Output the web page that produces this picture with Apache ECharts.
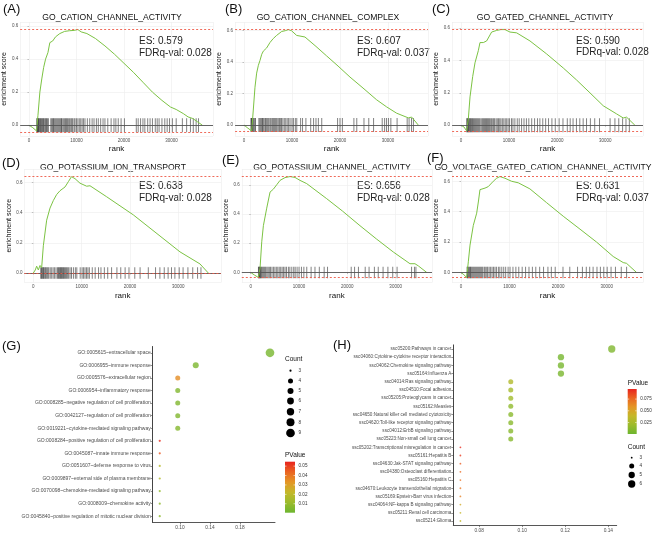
<!DOCTYPE html>
<html><head><meta charset="utf-8">
<script src="https://cdn.jsdelivr.net/npm/echarts@6/dist/echarts.min.js"></script>
<style>html,body{margin:0;padding:0;background:#fff}#c{width:653px;height:534px}</style>
</head><body><div id="c"></div>
<script>
// ---------------- DATA ----------------
const panelTags = ['(A)', '(B)', '(C)', '(D)', '(E)', '(F)'];
const panelNames = ['GO_CATION_CHANNEL_ACTIVITY', 'GO_CATION_CHANNEL_COMPLEX', 'GO_GATED_CHANNEL_ACTIVITY',
  'GO_POTASSIUM_ION_TRANSPORT', 'GO_POTASSIUM_CHANNEL_ACTIVITY', 'GO_VOLTAGE_GATED_CATION_CHANNEL_ACTIVITY'];
const esValues = ['0.579', '0.607', '0.590', '0.638', '0.656', '0.631'];
const fdrValues = ['0.028', '0.037', '0.028', '0.028', '0.028', '0.037'];

const curveA = [[0,0],[800,-0.015],[1600,-0.035],[1900,0.06],[2300,0.2],[2700,0.28],[3100,0.35],[3500,0.4],[4000,0.44],[4400,0.5],[4700,0.49],[5000,0.51],[5600,0.535],[6500,0.555],[7500,0.568],[8500,0.572],[9500,0.574],[10300,0.579],[11000,0.565],[12200,0.555],[14000,0.525],[16000,0.48],[18000,0.43],[20000,0.375],[22000,0.32],[24000,0.26],[26000,0.2],[28000,0.15],[29800,0.11],[31000,0.095],[32500,0.07],[33500,0.05],[34500,0.04],[35500,0.02],[36500,0]];
const curveB = [[0,0],[800,-0.02],[1600,-0.038],[1940,0.095],[2290,0.24],[2640,0.33],[3000,0.38],[3330,0.41],[3700,0.45],[4030,0.47],[4400,0.47],[4720,0.49],[5420,0.525],[6100,0.55],[6800,0.57],[7850,0.595],[8600,0.6],[9240,0.607],[9900,0.6],[10970,0.57],[12700,0.56],[15000,0.5],[17200,0.44],[19600,0.375],[22080,0.305],[24800,0.235],[27640,0.16],[29720,0.115],[31800,0.075],[34240,0.045],[34940,0.05],[36300,0]];
const curveC = [[0,0],[600,-0.01],[1180,-0.035],[1530,0.04],[1875,0.175],[2430,0.3],[2910,0.385],[3600,0.46],[3950,0.51],[4640,0.51],[5330,0.52],[6370,0.575],[7410,0.585],[8300,0.59],[9150,0.59],[10180,0.575],[11570,0.57],[14340,0.52],[17800,0.44],[21270,0.353],[24000,0.28],[26810,0.2],[29580,0.12],[32350,0.07],[33730,0.045],[34430,0.05],[36160,0]];
const curveD = [[0,0],[400,0.02],[690,0.045],[1035,0.02],[1380,0.05],[1725,0.035],[2070,0.18],[2760,0.35],[3450,0.43],[4140,0.48],[4830,0.52],[5520,0.545],[5870,0.535],[6560,0.57],[7250,0.605],[7900,0.638],[8630,0.625],[9660,0.595],[11040,0.575],[11730,0.578],[15180,0.505],[20700,0.385],[26220,0.245],[30360,0.14],[34500,0.06],[36220,0]];
const curveE = [[0,0],[800,-0.018],[1580,-0.034],[1930,0.03],[2280,0.21],[2620,0.32],[3310,0.44],[4000,0.55],[4690,0.57],[5380,0.6],[6070,0.63],[7100,0.649],[8140,0.656],[9170,0.65],[10200,0.63],[11580,0.608],[15720,0.505],[19000,0.42],[22620,0.32],[26000,0.23],[29520,0.14],[32970,0.06],[34000,0.06],[34700,0.045],[36450,0]];
const curveF = [[0,0],[600,-0.015],[1170,-0.033],[1510,0.07],[1860,0.18],[2540,0.31],[3230,0.39],[3600,0.47],[3910,0.545],[4940,0.555],[5620,0.565],[6650,0.6],[7340,0.62],[8020,0.631],[9050,0.62],[10420,0.6],[11790,0.59],[14190,0.55],[17600,0.46],[21050,0.37],[24500,0.285],[27910,0.2],[31340,0.105],[33400,0.065],[34080,0.06],[36140,0]];

const hitsA = [1650,1750,1850,1950,2050,2150,2300,2450,2600,2750,2900,3050,3200,3400,3550,3700,3900,4100,4600,4800,5000,5150,5300,5500,5700,5900,6100,6300,6500,6700,6850,7000,7250,7500,7700,7900,8100,8300,8550,8800,9000,9200,9500,9700,10000,10300,10600,10900,11200,11500,11800,12300,12800,13300,13700,14200,14600,15100,15600,16000,16600,17300,17900,18300,18800,19400,20100,22600,23000,23500,24000,24400,25000,25500,26000,26600,27000,27400,28000,28600,29100,29600,30200,31000,32300,33200,34000,34600,35200,35700];
const hitsB = [1450,1550,1650,1750,1900,2050,2250,2400,3100,3300,3500,3700,3850,4000,4200,4450,4600,4800,5000,5200,5450,5650,5900,6100,6300,6500,6700,6900,7150,7400,7650,7800,8100,8400,8700,9000,9300,9600,10000,10300,10700,11000,11800,12200,12900,13900,14500,15000,15500,16200,19500,20000,20500,22900,23500,25000,26000,27000,28800,29300,29700,30100,30600,31900,34000,34400,34900,35300];
const hitsC = [1200,1300,1400,1550,1650,1800,1950,2100,2250,2400,2600,2800,3000,3200,3400,3600,3800,4000,4300,4500,4700,4900,5100,5300,5500,5700,5900,6100,6350,6600,6800,7000,7300,7550,7800,8050,8300,8600,8900,9200,9500,9800,10100,10500,10800,11200,11700,12100,12600,13100,13600,14100,14700,15300,15900,16400,17000,17600,18200,18900,19600,20400,21200,22100,22700,23300,24000,24700,25400,26100,26900,27800,28800,31000,32000,32800,33600,34300,35000];
const hitsD = [1550,1650,1800,1950,2100,2250,2450,2600,2800,3000,3200,3500,3800,4100,4400,4700,5000,5200,5350,5500,5650,5800,5950,6100,6250,6450,6650,6850,7050,7300,7600,7900,8300,8700,9000,9700,10100,10400,10700,11000,11300,11600,12200,12800,13500,14000,14700,15400,16200,17300,18100,19000,19800,21000,22100,23800,25300,26200,27100,27900,28600,29300,30200,31000,32000,33000,34000,34700];
const hitsE = [1600,1700,1800,1900,2000,2150,2300,2500,2700,2900,3100,3350,3600,3850,4100,4400,4700,5000,5300,5600,5900,6200,6500,6800,7100,7400,7800,8100,8500,8900,9200,9600,10000,10500,11000,11600,12500,13300,14200,15200,15900,20800,21500,22300,23700,24500,25600,26400,27400,28400,29400,30300,33300,33900,34200];
const hitsF = [1250,1350,1500,1650,1800,1950,2100,2300,2500,2700,2900,3100,3300,3500,3700,3900,4100,4300,4500,4800,5000,5300,5500,5800,6100,6400,6700,7000,7300,7700,8000,8400,8800,9200,9700,10100,10700,11300,11900,12600,13300,14000,14700,15400,16200,17000,17900,18600,19400,21000,22400,24000,25000,25800,26500,27200,28000,28700,29400,30100,30900,31800,33000,34100];

const goTerms = ['GO:0005615~extracellular space','GO:0006955~immune response','GO:0005576~extracellular region','GO:0006954~inflammatory response','GO:0008285~negative regulation of cell proliferation','GO:0042127~regulation of cell proliferation','GO:0019221~cytokine-mediated signaling pathway','GO:0008284~positive regulation of cell proliferation','GO:0045087~innate immune response','GO:0051607~defense response to virus','GO:0009897~external side of plasma membrane','GO:0070098~chemokine-mediated signaling pathway','GO:0008009~chemokine activity','GO:0045840~positive regulation of mitotic nuclear division'];
const goRatio = [0.22,0.121,0.097,0.097,0.097,0.097,0.097,0.073,0.073,0.073,0.073,0.073,0.073,0.073];
const goCount = [9,5,4,4,4,4,4,3,3,3,3,3,3,3];
const goPValue = [0.003,0.004,0.035,0.005,0.005,0.005,0.006,0.053,0.046,0.019,0.017,0.009,0.008,0.008];
const goPTicks = [0.01,0.02,0.03,0.04,0.05];
const goCountLevels = [3,4,5,6,7,8,9];

const keggTerms = ['ssc05200:Pathways in cancer','ssc04060:Cytokine-cytokine receptor interaction','ssc04062:Chemokine signaling pathway','ssc05164:Influenza A','ssc04014:Ras signaling pathway','ssc04510:Focal adhesion','ssc05205:Proteoglycans in cancer','ssc05162:Measles','ssc04650:Natural killer cell mediated cytotoxicity','ssc04620:Toll-like receptor signaling pathway','ssc04012:ErbB signaling pathway','ssc05223:Non-small cell lung cancer','ssc05202:Transcriptional misregulation in cancer','ssc05161:Hepatitis B','ssc04630:Jak-STAT signaling pathway','ssc04380:Osteoclast differentiation','ssc05160:Hepatitis C','ssc04670:Leukocyte transendothelial migration','ssc05169:Epstein-Barr virus infection','ssc04064:NF-kappa B signaling pathway','ssc05211:Renal cell carcinoma','ssc05214:Glioma'];
const keggRatio = [0.1416,0.118,0.118,0.118,0.0947,0.0947,0.0947,0.0947,0.0947,0.0947,0.0947,0.0947,0.0713,0.0713,0.0713,0.0713,0.0713,0.0713,0.0713,0.0713,0.0713,0.0713];
const keggCount = [6,5,5,5,4,4,4,4,4,4,4,4,3,3,3,3,3,3,3,3,3,3];
const keggPValue = [0.008,0.004,0.005,0.006,0.03,0.024,0.022,0.015,0.012,0.012,0.011,0.011,0.094,0.09,0.08,0.075,0.072,0.07,0.066,0.047,0.04,0.037];
const keggPTicks = [0.025,0.05,0.075];
const keggCountLevels = [3,4,5,6];

// ---------------- STYLE / LAYOUT ----------------
const FONT = '"Liberation Sans", Arial, Helvetica, sans-serif';
const curves = [curveA, curveB, curveC, curveD, curveE, curveF];
const hits = [hitsA, hitsB, hitsC, hitsD, hitsE, hitsF];
const L = [
  {left:18.1, top:22, width:194.9, height:114, xMax:38750, yMin:-0.0657, yMax:0.625, rug:14, tag:[3,9], title:[112,18], es:[139,41,53]},
  {left:235.1, top:22, width:192.9, height:114, xMax:38340, yMin:-0.0703, yMax:0.6554, rug:14, tag:[225,9], title:[328,18], es:[357,41.5,53]},
  {left:452.1, top:22, width:190.9, height:114, xMax:37840, yMin:-0.0663, yMax:0.6369, rug:14, tag:[432,9], title:[545,18], es:[576,41,52.5]},
  {left:24.4, top:169, width:196.6, height:113.5, xMax:38850, yMin:-0.063, yMax:0.689, rug:11.5, tag:[2,163], title:[113,168], es:[139,186.7,198.3]},
  {left:241.8, top:169, width:190.2, height:113.5, xMax:37530, yMin:-0.0685, yMax:0.7078, rug:11.5, tag:[222,160], title:[332,167.7], es:[357,186.7,198.3]},
  {left:452.0, top:169, width:191.0, height:113.5, xMax:37475, yMin:-0.0662, yMax:0.6808, rug:11.5, tag:[427,158], title:[543,167.7], es:[576,186.7,198.3]}
];
const colorStops = ['#6DB52F','#9CBB2C','#C4B82A','#E49625','#EA6421','#E8231E'];
const goSize = {3:2.2,4:5,5:6,6:6.8,7:7.4,8:8,9:8.7};
const keggSize = {3:1.8,4:5,5:6.3,6:7.3};
const goP = {min:0.0005, max:0.0547};
const keggP = {min:0.0005, max:0.0965};

const grids = [], xAxes = [], yAxes = [], series = [], graphics = [];
const tickLbl = {fontSize:4.5, color:'#4D4D4D', fontFamily:FONT, margin:2};

L.forEach((p, i) => {
  grids.push({left:p.left, top:p.top, width:p.width, height:p.height});
  xAxes.push({type:'value', gridIndex:i, min:-1850, max:p.xMax, splitNumber:4,
    name:'rank', nameLocation:'middle', nameGap:9, nameTextStyle:{fontSize:8, color:'#111', fontFamily:FONT},
    axisLine:{show:false}, axisTick:{show:true, length:1.5, lineStyle:{color:'#888', width:0.5}},
    axisLabel:Object.assign({showMinLabel:false, showMaxLabel:false, formatter:v => String(Math.round(v))}, tickLbl),
    splitLine:{show:true, lineStyle:{color:'#EDEDED', width:0.6}}});
  yAxes.push({type:'value', gridIndex:i, min:p.yMin, max:p.yMax, splitNumber:4,
    name:'enrichment score', nameLocation:'middle', nameGap:8, nameTextStyle:{fontSize:7, color:'#111', fontFamily:FONT},
    axisLine:{show:false}, axisTick:{show:true, length:1.5, lineStyle:{color:'#888', width:0.5}},
    axisLabel:Object.assign({showMinLabel:false, showMaxLabel:false, formatter:v => v.toFixed(1)}, tickLbl),
    splitLine:{show:true, lineStyle:{color:'#EDEDED', width:0.6}}});
  const c = curves[i];
  const es = Math.max(...c.map(d => d[1]));
  const mn = Math.min(...c.map(d => d[1]));
  series.push({type:'scatter', xAxisIndex:i, yAxisIndex:i, data:hits[i].map(h => [h, 0]),
    symbol:'rect', symbolSize:[1, p.rug], itemStyle:{color:'rgba(0,0,0,0.62)'}, silent:true, z:2});
  series.push({type:'line', xAxisIndex:i, yAxisIndex:i, data:c, showSymbol:false, symbol:'none',
    lineStyle:{color:'#7CC343', width:1}, z:4, silent:true,
    markLine:{silent:true, symbol:'none', label:{show:false}, animation:false,
      data:[
        {yAxis:0, lineStyle:{color:'#555555', type:'solid', width:0.9}},
        {yAxis:es, lineStyle:{color:'#EE5A48', type:[2,2], width:0.9}},
        {yAxis:mn, lineStyle:{color:'#EE5A48', type:[2,2], width:0.9}}
      ]}});
  graphics.push({type:'text', style:{text:panelTags[i], x:p.tag[0], y:p.tag[1], fontSize:13, fontFamily:FONT, fill:'#111', verticalAlign:'middle'}});
  graphics.push({type:'text', style:{text:panelNames[i], x:p.title[0], y:p.title[1], fontSize:8.6, fontFamily:FONT, fill:'#111', align:'center', verticalAlign:'middle'}});
  graphics.push({type:'text', style:{text:'ES: ' + esValues[i], x:p.es[0], y:p.es[1], fontSize:10, fontFamily:FONT, fill:'#222', verticalAlign:'middle'}});
  graphics.push({type:'text', style:{text:'FDRq-val: ' + fdrValues[i], x:p.es[0], y:p.es[2], fontSize:10, fontFamily:FONT, fill:'#222', verticalAlign:'middle'}});
});

// Dot plots
const dotGrids = [
  {left:152.7, top:346.5, width:122.3, height:176, xMin:0.0636, xMax:0.2267, ticks:[0.10,0.14,0.18], terms:goTerms, ratio:goRatio, count:goCount, p:goPValue, size:goSize, lblSize:5},
  {left:453.3, top:344.9, width:163.4, height:180.2, xMin:0.068, xMax:0.1439, ticks:[0.08,0.10,0.12,0.14], terms:keggTerms, ratio:keggRatio, count:keggCount, p:keggPValue, size:keggSize, lblSize:4.6}
];
dotGrids.forEach((g, k) => {
  const gi = 6 + k;
  grids.push({left:g.left, top:g.top, width:g.width, height:g.height});
  xAxes.push({type:'value', gridIndex:gi, min:g.xMin, max:g.xMax,
    axisLine:{show:true, lineStyle:{color:'#444', width:0.9}},
    axisTick:{show:true, length:2, customValues:g.ticks, lineStyle:{color:'#444', width:0.6}},
    axisLabel:{customValues:g.ticks, formatter:v => v.toFixed(2), fontSize:4.8, color:'#4D4D4D', fontFamily:FONT, margin:3},
    splitLine:{show:false}});
  yAxes.push({type:'category', gridIndex:gi, data:g.terms, inverse:true,
    axisLine:{show:true, lineStyle:{color:'#444', width:1}},
    axisTick:{show:true, alignWithLabel:true, length:2, lineStyle:{color:'#444', width:0.6}},
    axisLabel:{fontSize:g.lblSize, color:'#4D4D4D', fontFamily:FONT, margin:2, interval:0},
    splitLine:{show:false}});
  series.push({type:'scatter', xAxisIndex:gi, yAxisIndex:gi,
    data:g.terms.map((t, j) => [g.ratio[j], t, g.p[j], g.count[j]]),
    encode:{x:0, y:1}, symbolSize:d => g.size[d[3]], silent:true, z:3});
});

// Legends
function colorBar(x, y, w, h, pr, ticks, digits) {
  graphics.push({type:'rect', shape:{x:x, y:y, width:w, height:h},
    style:{fill:new echarts.graphic.LinearGradient(0, 1, 0, 0, colorStops.map((c, i) => ({offset:i/(colorStops.length-1), color:c})))}});
  ticks.forEach(v => {
    const yy = y + h - (v - pr.min) / (pr.max - pr.min) * h;
    graphics.push({type:'line', shape:{x1:x, y1:yy, x2:x+1.5, y2:yy}, style:{stroke:'#fff', lineWidth:0.6}});
    graphics.push({type:'line', shape:{x1:x+w-1.5, y1:yy, x2:x+w, y2:yy}, style:{stroke:'#fff', lineWidth:0.6}});
    graphics.push({type:'text', style:{text:v.toFixed(digits), x:x+w+3.5, y:yy, fontSize:4.6, fontFamily:FONT, fill:'#333', verticalAlign:'middle'}});
  });
}
function sizeLegend(x, ys, lx, levels, sizeMap) {
  levels.forEach((lv, i) => {
    graphics.push({type:'circle', shape:{cx:x, cy:ys[i], r:sizeMap[lv]/2}, style:{fill:'#000'}});
    graphics.push({type:'text', style:{text:String(lv), x:lx, y:ys[i], fontSize:4.6, fontFamily:FONT, fill:'#333', verticalAlign:'middle'}});
  });
}
function legendTitle(t, x, y) {
  graphics.push({type:'text', style:{text:t, x:x, y:y, fontSize:6.5, fontFamily:FONT, fill:'#111', verticalAlign:'middle'}});
}
graphics.push({type:'text', style:{text:'(G)', x:2, y:346.7, fontSize:13, fontFamily:FONT, fill:'#111', verticalAlign:'middle'}});
graphics.push({type:'text', style:{text:'(H)', x:333, y:345, fontSize:13, fontFamily:FONT, fill:'#111', verticalAlign:'middle'}});
legendTitle('Count', 285, 359.3);
sizeLegend(290.5, [370.7,381,391,401,411.7,422.3,433], 298.5, goCountLevels, goSize);
legendTitle('PValue', 285, 455);
colorBar(285, 461.7, 10, 51, goP, goPTicks, 2);
legendTitle('PValue', 627.7, 383.3);
colorBar(627.7, 389, 9, 45, keggP, keggPTicks, 3);
legendTitle('Count', 627.7, 447.3);
sizeLegend(631.7, [457.7,466,475,484], 639.5, keggCountLevels, keggSize);

const chart = echarts.init(document.getElementById('c'));
chart.setOption({
  animation:false,
  backgroundColor:'#fff',
  textStyle:{fontFamily:FONT},
  grid:grids, xAxis:xAxes, yAxis:yAxes, series:series,
  visualMap:[
    {type:'continuous', show:false, seriesIndex:12, dimension:2, min:goP.min, max:goP.max, inRange:{color:colorStops}},
    {type:'continuous', show:false, seriesIndex:13, dimension:2, min:keggP.min, max:keggP.max, inRange:{color:colorStops}}
  ],
  graphic:graphics
});
</script></body></html>
